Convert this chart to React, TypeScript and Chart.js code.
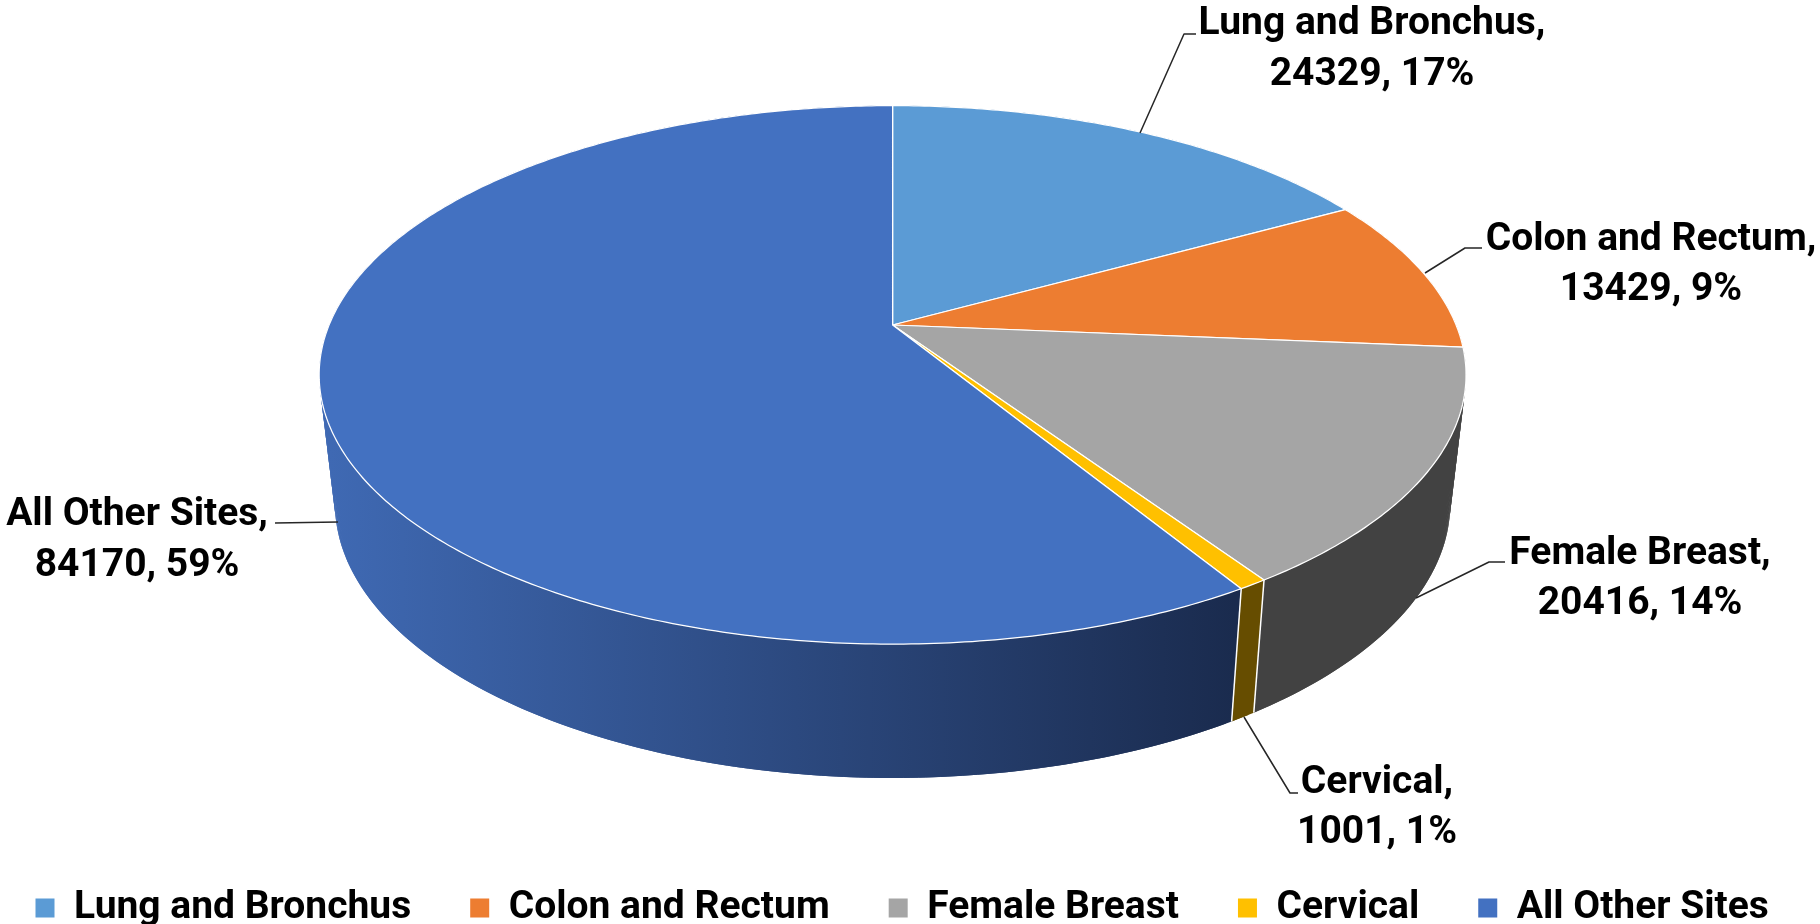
import React, { useEffect, useRef } from "react";
import { Chart, registerables } from "chart.js";

Chart.register(...registerables);

const categories = ["Lung and Bronchus", "Colon and Rectum", "Female Breast", "Cervical", "All Other Sites"];
const cases = [24329, 13429, 20416, 1001, 84170];
const topColors = ["#5B9BD5", "#ED7D31", "#A5A5A5", "#FFC000", "#4371C1"];
const wallStart = ["#3B6E9E", "#A85820", "#424242", "#664D00", "#3F69B3"];
const wallEnd = ["#3B6E9E", "#A85820", "#424242", "#664D00", "#1A2B4E"];

const FONT_FAMILY = 'Roboto, "Noto Sans", sans-serif';
const FONT_SIZE = 39;
const CX = 892.6;
const TOP = { y: 325, r: 563.5, a: 260, p: 0.1853 };
const LOW = { y: 452.7, r: 548, a: 265, p: 0.1853 };

const labelBoxes = [
  { x: 1372, y1: 24, y2: 75, line: [[1140, 133], [1184, 34], [1196, 34]] },
  { x: 1651, y1: 240, y2: 290, line: [[1425, 273], [1465, 248], [1482, 248]] },
  { x: 1640, y1: 554, y2: 604, line: [[1416, 598], [1489, 562], [1505, 562]] },
  { x: 1377, y1: 783, y2: 833, line: [[1244, 717], [1290, 793], [1298, 793]] },
  { x: 137, y1: 515, y2: 566, line: [[338, 522], [275, 523]] },
];

type Disc = typeof TOP;
const project = (d: Disc, angle: number): [number, number] => {
  const u = Math.cos(angle);
  const v = Math.sin(angle);
  const w = 1 - d.p * v;
  return [CX + (d.r * u) / w, d.y + (d.a * v) / w];
};

const tracePerimeter = (ctx: CanvasRenderingContext2D, d: Disc, a0: number, a1: number) => {
  const n = Math.max(2, Math.ceil(Math.abs(a1 - a0) * 90));
  for (let i = 0; i <= n; i++) {
    const [x, y] = project(d, a0 + ((a1 - a0) * i) / n);
    ctx.lineTo(x, y);
  }
};

const fillWall = (ctx: CanvasRenderingContext2D, a0: number, a1: number) => {
  const n = Math.max(2, Math.ceil((a1 - a0) * 90));
  const step = (a1 - a0) / n;
  for (let i = 0; i < n; i++) {
    const s = a0 + step * i;
    const e = Math.min(a1, s + step * 2);
    ctx.beginPath();
    ctx.moveTo(...project(TOP, s));
    ctx.lineTo(...project(TOP, e));
    ctx.lineTo(...project(LOW, e));
    ctx.lineTo(...project(LOW, s));
    ctx.closePath();
    ctx.fill();
  }
};

const pie3d = {
  id: "pie3d",
  beforeDraw(chart: any) {
    chart.legend.left = -23.5;
    chart.legend.top = 829.5;
    chart.legend.right = 1900;
  },
  beforeDatasetsDraw(chart: any) {
    const ctx: CanvasRenderingContext2D = chart.ctx;
    const arcs = chart.getDatasetMeta(0).data;
    const total = cases.reduce((s, v) => s + v, 0);
    ctx.save();
    ctx.lineJoin = "round";

    arcs.forEach((arc: any, i: number) => {
      const g = ctx.createLinearGradient(330, 0, 1235, 0);
      g.addColorStop(0, wallStart[i]);
      g.addColorStop(1, wallEnd[i]);
      ctx.fillStyle = g;
      fillWall(ctx, arc.startAngle, arc.endAngle);
    });
    ctx.strokeStyle = "#FFFFFF";
    ctx.lineWidth = 1.5;
    arcs.forEach((arc: any) => {
      if (Math.sin(arc.startAngle) > 0.3) {
        ctx.beginPath();
        ctx.moveTo(...project(TOP, arc.startAngle));
        ctx.lineTo(...project(LOW, arc.startAngle));
        ctx.stroke();
      }
    });

    arcs.forEach((arc: any, i: number) => {
      ctx.fillStyle = topColors[i];
      ctx.beginPath();
      ctx.moveTo(CX, TOP.y);
      tracePerimeter(ctx, TOP, arc.startAngle, arc.endAngle);
      ctx.closePath();
      ctx.fill();
      ctx.strokeStyle = "#FFFFFF";
      ctx.lineWidth = 1.25;
      ctx.stroke();
    });

    ctx.strokeStyle = "#262626";
    ctx.lineWidth = 1.5;
    labelBoxes.forEach((b) => {
      ctx.beginPath();
      b.line.forEach(([x, y], k) => (k === 0 ? ctx.moveTo(x, y) : ctx.lineTo(x, y)));
      ctx.stroke();
    });

    ctx.fillStyle = "#000000";
    ctx.font = `bold ${FONT_SIZE}px ${FONT_FAMILY}`;
    ctx.textAlign = "center";
    ctx.textBaseline = "middle";
    labelBoxes.forEach((b, i) => {
      ctx.fillText(`${categories[i]},`, b.x, b.y1);
      ctx.fillText(`${cases[i]}, ${Math.round((cases[i] / total) * 100)}%`, b.x, b.y2);
    });
    ctx.restore();
    return false;
  },
};

export default function App() {
  const ref = useRef<HTMLCanvasElement>(null);
  useEffect(() => {
    const chart = new Chart(ref.current!, {
      type: "pie",
      data: {
        labels: categories,
        datasets: [{ data: cases, backgroundColor: topColors, borderColor: "#FFFFFF", borderWidth: 0 }],
      },
      options: {
        animation: false,
        responsive: false,
        layout: { padding: { left: -60, right: -60 } },
        plugins: {
          tooltip: { enabled: false },
          legend: {
            position: "bottom",
            align: "start",
            labels: {
              boxWidth: 19,
              boxHeight: 19,
              padding: 59,
              color: "#000000",
              font: { family: FONT_FAMILY, size: FONT_SIZE, weight: "bold" },
            },
          },
        },
      },
      plugins: [pie3d],
    } as any);
    return () => chart.destroy();
  }, []);
  return (
    <canvas
      ref={ref}
      width={1820}
      height={924}
      style={{ position: "absolute", left: 0, top: 0, width: 1820, height: 924, display: "block" }}
    />
  );
}
